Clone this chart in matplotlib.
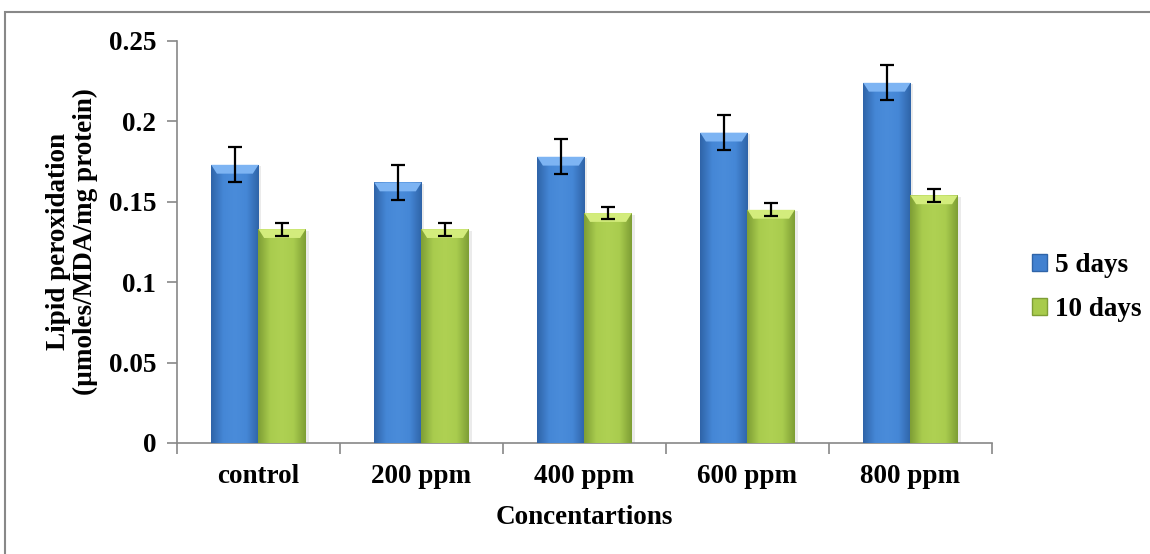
#!/usr/bin/env python3
"""
Lipid peroxidation bar chart (5 days vs 10 days)
"""

import matplotlib
matplotlib.use('Agg')
import matplotlib.pyplot as plt
import matplotlib.patches as mpatches
import numpy as np
from matplotlib.colors import LinearSegmentedColormap

# Data
categories = ['control', '200 ppm', '400 ppm', '600 ppm', '800 ppm']
days5 = [0.173, 0.162, 0.178, 0.193, 0.224]
days5_err = [0.011, 0.011, 0.011, 0.011, 0.011]
days10 = [0.133, 0.133, 0.143, 0.145, 0.154]
days10_err = [0.004, 0.004, 0.004, 0.004, 0.004]
series_labels = ['5 days', '10 days']

plt.rcParams['font.family'] = ['Liberation Serif', 'DejaVu Serif']
plt.rcParams['font.weight'] = 'bold'
FS = 19.5

BLUE = '#4281D0'
GREEN = '#A8CB4C'
blue_cmap = LinearSegmentedColormap.from_list(
    'b', ['#2F64A8', '#4587D6', '#4A8CDA', '#4587D6', '#2F64A8'])
green_cmap = LinearSegmentedColormap.from_list(
    'g', ['#7E9E35', '#A9CC4E', '#AFD153', '#A9CC4E', '#7E9E35'])


def shade_bars(ax, bars, cmap, top_color):
    grad = np.linspace(0, 1, 64).reshape(1, -1)
    for b in bars:
        x0, w, h = b.get_x(), b.get_width(), b.get_height()
        # soft shadow on the right
        sh = mpatches.Rectangle((x0 + w * 0.06, 0), w, h - 0.001,
                                color='#000000', alpha=0.08, zorder=1,
                                lw=0)
        ax.add_patch(sh)
        im = ax.imshow(grad, cmap=cmap, aspect='auto',
                       extent=(x0, x0 + w, 0, h), zorder=3,
                       interpolation='bicubic')
        im.set_clip_path(b)
        # top bevel
        bev = 0.0055
        inset = w * 0.12
        top = mpatches.Polygon([(x0, h), (x0 + w, h),
                                (x0 + w - inset, h - bev),
                                (x0 + inset, h - bev)],
                               closed=True, color=top_color, lw=0,
                               zorder=4)
        ax.add_patch(top)


fig = plt.figure(figsize=(11.5, 5.54), dpi=100)
ax = fig.add_axes([0.1539, 0.2004, 0.7087, 0.7256])

x = np.arange(len(categories))
w = 0.29
b1 = ax.bar(x - w / 2, days5, w, color=BLUE, zorder=2, lw=0)
b2 = ax.bar(x + w / 2, days10, w, color=GREEN, zorder=2, lw=0)
shade_bars(ax, b1, blue_cmap, '#7DB4F3')
shade_bars(ax, b2, green_cmap, '#D3EC7C')

ax.errorbar(x - w / 2, days5, yerr=days5_err, fmt='none', ecolor='black',
            elinewidth=1.6, capsize=5, capthick=1.6, zorder=6)
ax.errorbar(x + w / 2, days10, yerr=days10_err, fmt='none', ecolor='black',
            elinewidth=1.6, capsize=5, capthick=1.6, zorder=6)

ax.set_xlim(-0.5, len(categories) - 0.5)
ax.set_ylim(0, 0.25)
ax.set_yticks([0, 0.05, 0.1, 0.15, 0.2, 0.25])
ax.set_yticklabels(['0', '0.05', '0.1', '0.15', '0.2', '0.25'])
ax.set_xticks(x)
ax.set_xticklabels(categories)
ax.set_xticks(np.arange(len(categories) + 1) - 0.5, minor=True)
ax.tick_params(axis='x', which='major', length=0, pad=15, labelsize=FS)
ax.tick_params(axis='x', which='minor', length=8, color='#888888',
               width=1.2)
ax.tick_params(axis='y', length=7, color='#888888', width=1.2,
               labelsize=FS, pad=8)

for s in ['top', 'right']:
    ax.spines[s].set_visible(False)
for s in ['left', 'bottom']:
    ax.spines[s].set_color('#888888')
    ax.spines[s].set_linewidth(1.2)

ax.set_xlabel('Concentartions', fontsize=FS, fontweight='bold', labelpad=12)
ax.set_ylabel('Lipid peroxidation\n(µmoles/MDA/mg protein)', fontsize=FS,
              fontweight='bold', labelpad=8, linespacing=1.05)

handles = [mpatches.Patch(facecolor=BLUE, edgecolor='#2F64A8'),
           mpatches.Patch(facecolor=GREEN, edgecolor='#7E9E35')]
fig.legend(handles, series_labels, loc='center left',
           bbox_to_anchor=(0.876, 0.481), frameon=False, fontsize=FS,
           handlelength=0.55, handleheight=0.55, handletextpad=0.3,
           labelspacing=0.7)

# outer frame
frame = mpatches.Rectangle((5 / 1150, -0.05), 1.1, 1.05 - 12 / 554,
                           transform=fig.transFigure, fill=False,
                           edgecolor='#888888', lw=1.5)
fig.patches.append(frame)

fig.savefig('out.png', dpi=100)
